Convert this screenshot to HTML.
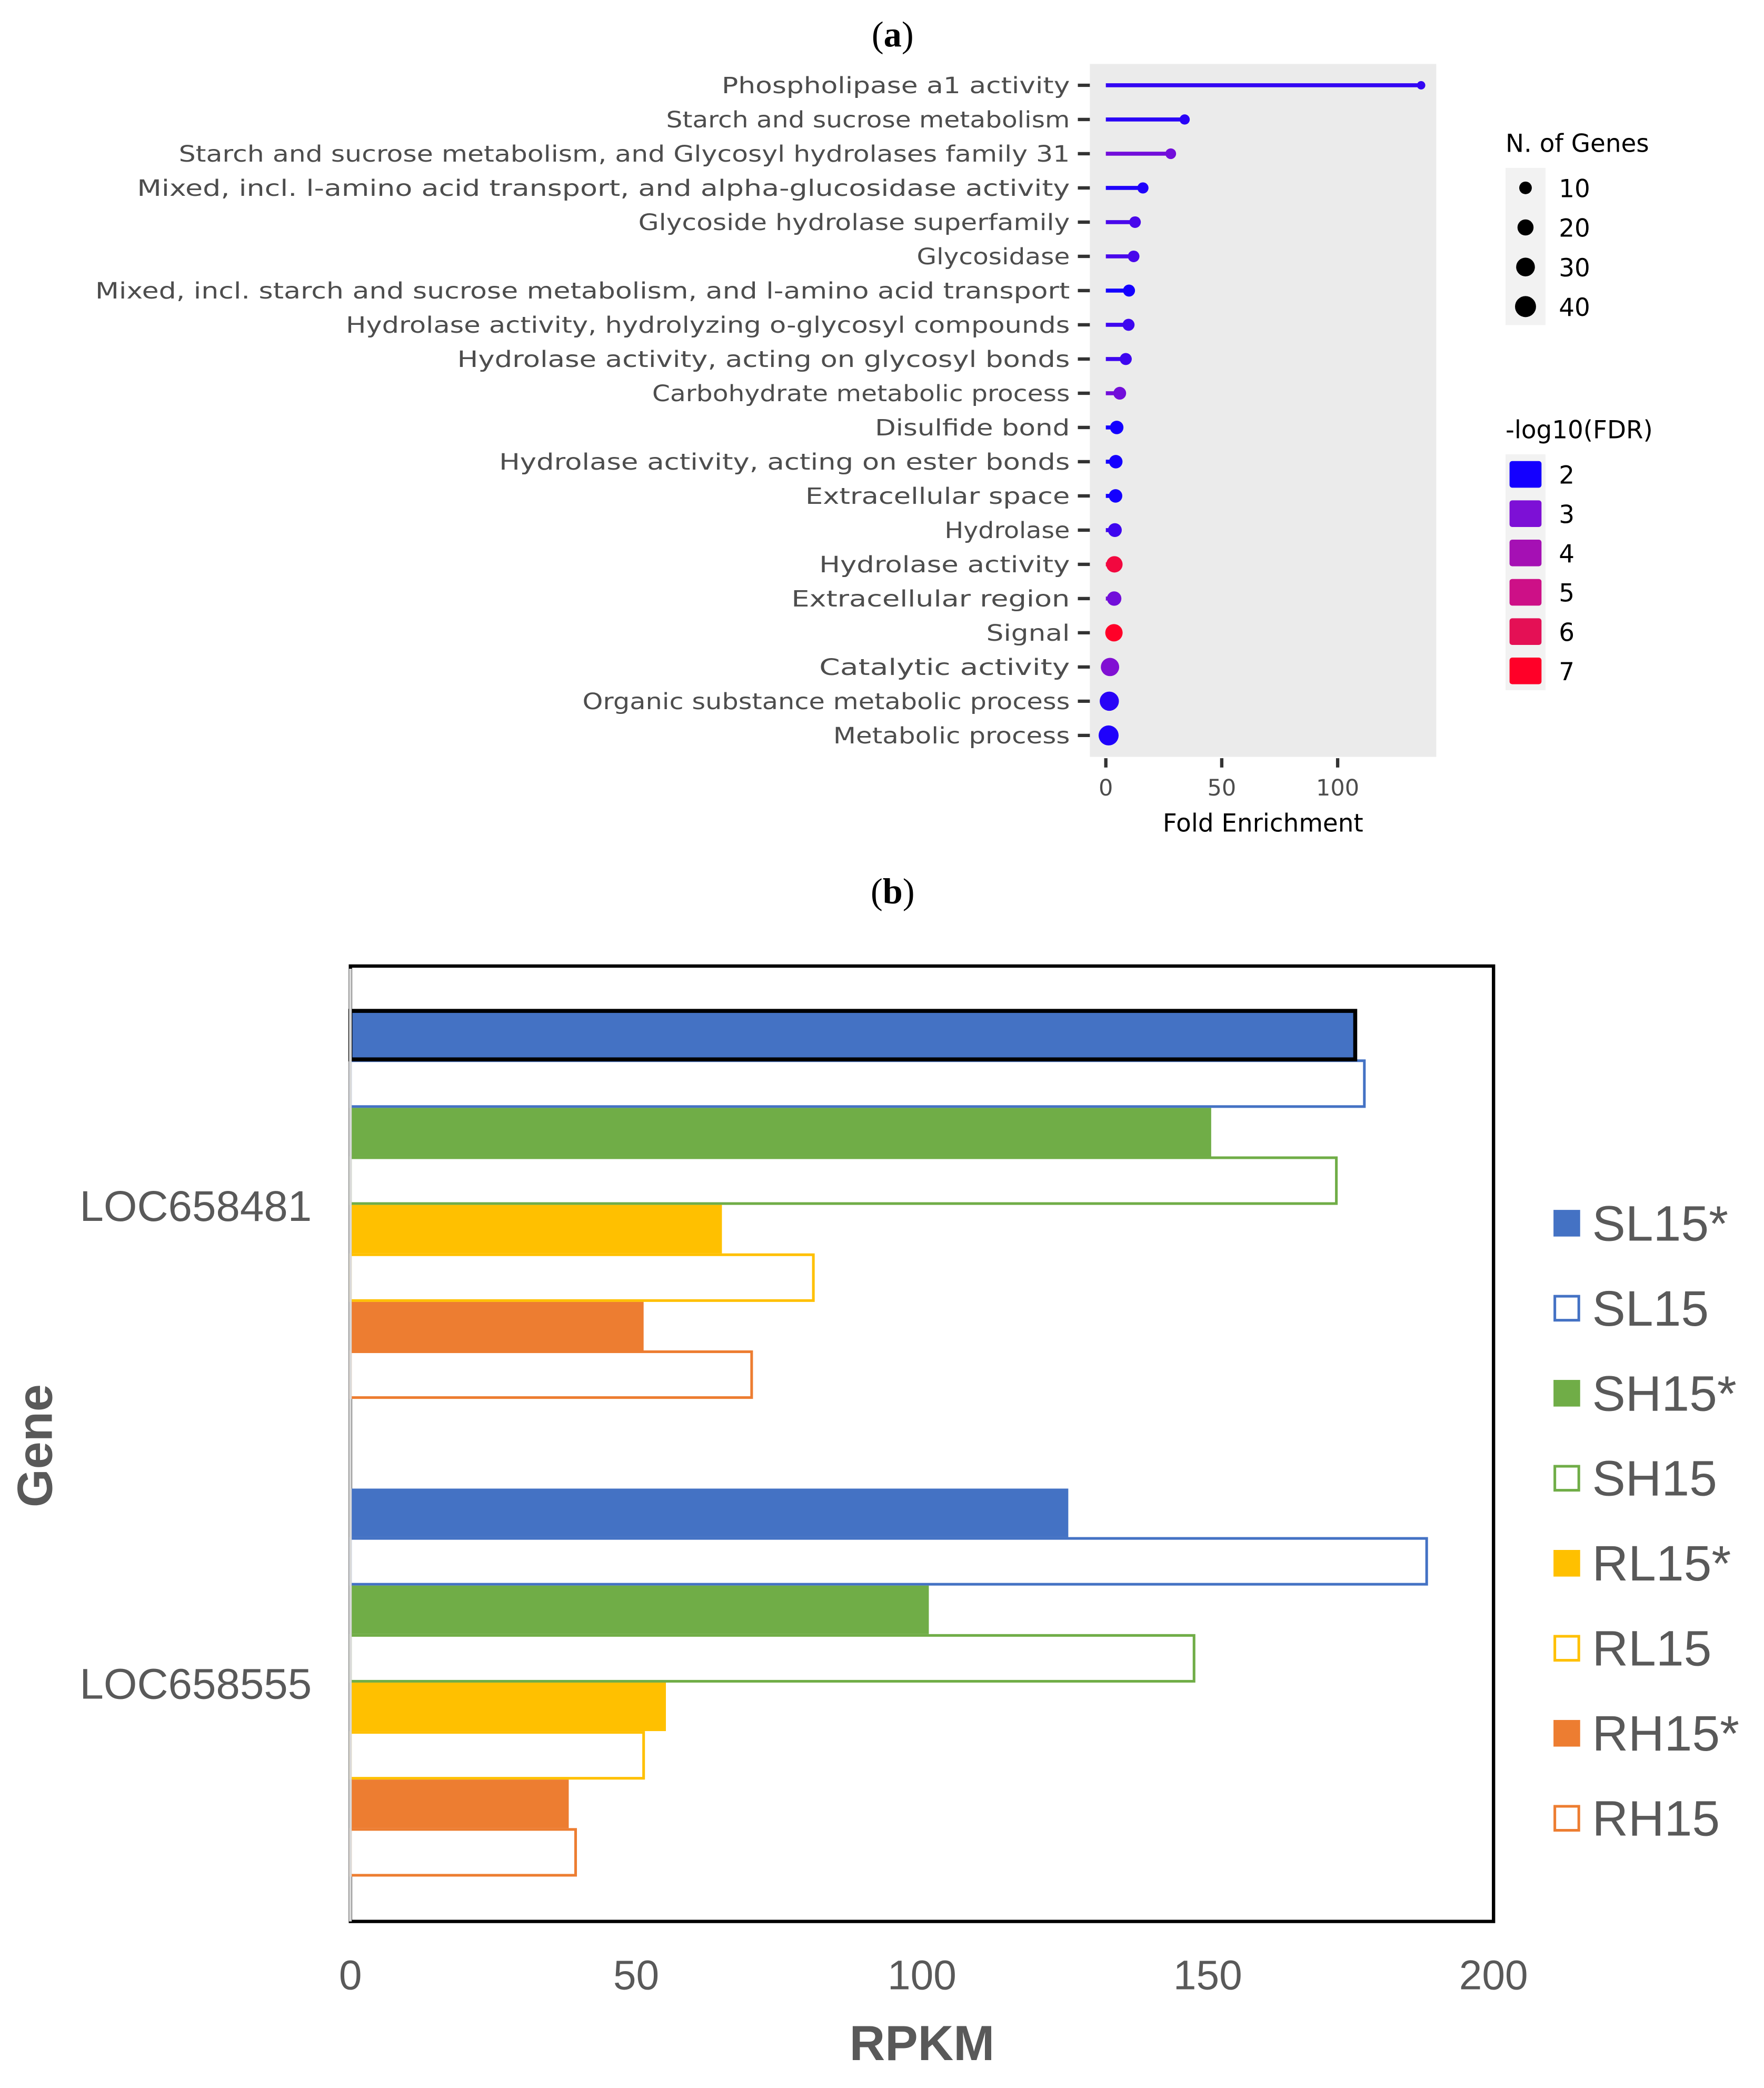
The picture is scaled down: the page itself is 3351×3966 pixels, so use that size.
<!DOCTYPE html>
<html><head><meta charset="utf-8"><style>
html,body{margin:0;padding:0;background:#fff;}
svg{display:block;}
</style></head><body>
<svg id="fig" width="3351" height="3966" viewBox="0 0 1324 1567" preserveAspectRatio="none" xmlns="http://www.w3.org/2000/svg">
<text x="670" y="35" text-anchor="middle" font-family="Liberation Serif, serif" font-size="27">(<tspan font-weight="bold">a</tspan>)</text>
<text x="670" y="678" text-anchor="middle" font-family="Liberation Serif, serif" font-size="27">(<tspan font-weight="bold">b</tspan>)</text>
<g id="topChart"></g>
<g id="botChart"></g>
</svg>
<script>
// ---- Chart (a) data ----
const terms = ["Phospholipase a1 activity","Starch and sucrose metabolism","Starch and sucrose metabolism, and Glycosyl hydrolases family 31","Mixed, incl. l-amino acid transport, and alpha-glucosidase activity","Glycoside hydrolase superfamily","Glycosidase","Mixed, incl. starch and sucrose metabolism, and l-amino acid transport","Hydrolase activity, hydrolyzing o-glycosyl compounds","Hydrolase activity, acting on glycosyl bonds","Carbohydrate metabolic process","Disulfide bond","Hydrolase activity, acting on ester bonds","Extracellular space","Hydrolase","Hydrolase activity","Extracellular region","Signal","Catalytic activity","Organic substance metabolic process","Metabolic process"];
const foldEnrichment = [136, 34, 28, 16, 12.6, 12, 10, 9.8, 8.6, 6, 4.7, 4.3, 4.2, 3.9, 3.7, 3.6, 3.5, 1.8, 1.5, 1.2];
const nGenes = [3, 6, 7, 8, 9, 9, 10, 10, 10, 12, 14, 14, 14, 15, 24, 17, 28, 32, 36, 40];
const fdrLog = [2.3, 2.2, 2.9, 2.1, 2.5, 2.5, 2.0, 2.4, 2.4, 2.9, 2.0, 2.0, 2.0, 2.4, 6.5, 2.9, 7.0, 3.1, 2.2, 2.1];
const xTicksA = [0, 50, 100];
const sizeLegend = [10, 20, 30, 40];
const colorLegend = [2, 3, 4, 5, 6, 7];

// ---- Chart (b) data ----
const genes = ["LOC658481", "LOC658555"];
const seriesNames = ["SL15*","SL15","SH15*","SH15","RL15*","RL15","RH15*","RH15"];
const seriesColors = ["#4472c4","#4472c4","#70ad47","#70ad47","#ffc000","#ffc000","#ed7d31","#ed7d31"];
const seriesFilled = [true,false,true,false,true,false,true,false];
const gene1Values = [175.8, 177.4, 150.6, 172.5, 65, 81, 51.3, 70.2];
const gene2Values = [125.6, 188.3, 101.2, 147.6, 55.2, 51.3, 38.2, 39.4];
const xTicksB = [0, 50, 100, 150, 200];

const NS = "http://www.w3.org/2000/svg";
function mk(parent, tag, attrs, text){
  const e = document.createElementNS(NS, tag);
  for (const k in attrs) e.setAttribute(k, attrs[k]);
  if (text !== undefined) e.textContent = text;
  parent.appendChild(e);
  return e;
}
const palette = [[20,0,255],[125,16,214],[165,16,180],[205,16,135],[228,16,85],[255,0,40]];
function fdrColor(v){
  const t = Math.max(0, Math.min(5, v-2));
  const i = Math.min(4, Math.floor(t)), f = t - i;
  const a = palette[i], b = palette[i+1];
  return `rgb(${Math.round(a[0]+(b[0]-a[0])*f)},${Math.round(a[1]+(b[1]-a[1])*f)},${Math.round(a[2]+(b[2]-a[2])*f)})`;
}
function radius(n){ return 1.5 + 0.95*Math.sqrt(n); }

// ---- Draw chart (a) ----
const A = document.getElementById('topChart');
const pL=818, pR=1078, pT=48, pB=568;
const xA = v => 830 + v*1.74;
const rowY = i => 64 + i*25.68;
let bg = mk(A,'rect',{x:pL,y:pT,width:pR-pL,height:pB-pT,fill:'#ebebeb'});


terms.forEach((t,i)=>{
  const y = rowY(i);
  const lab = mk(A,'text',{x:803,y:y+6,'text-anchor':'end','font-family':'DejaVu Sans, sans-serif','font-size':'17',fill:'#4d4d4d',textLength:(t.length*10.45).toFixed(1),lengthAdjust:'spacingAndGlyphs'},t);
  
  
  const tk = mk(A,'line',{x1:809,x2:818,y1:y,y2:y,stroke:'#333',"stroke-width":2.5});
  
  
  const c = fdrColor(fdrLog[i]);
  const ln = mk(A,'line',{x1:xA(0),x2:xA(foldEnrichment[i]),y1:y,y2:y,stroke:c,'stroke-width':3});
  
  
  const dt = mk(A,'circle',{cx:xA(foldEnrichment[i]),cy:y,r:radius(nGenes[i]),fill:c});
  
  
});
xTicksA.forEach(v=>{
  const tk = mk(A,'line',{x1:xA(v),x2:xA(v),y1:569,y2:576,stroke:'#333','stroke-width':2.5});
  
  
  const tl = mk(A,'text',{x:xA(v),y:597,'text-anchor':'middle','font-family':'DejaVu Sans, sans-serif','font-size':'17',fill:'#4d4d4d'},String(v));
  
  
});
let xt = mk(A,'text',{x:948,y:624,'text-anchor':'middle','font-family':'DejaVu Sans, sans-serif','font-size':'18.5',fill:'#000'},'Fold Enrichment');


let st = mk(A,'text',{x:1130,y:114,'font-family':'DejaVu Sans, sans-serif','font-size':'18.5',fill:'#000'},'N. of Genes');


mk(A,'rect',{x:1130,y:126,width:30,height:118,fill:'#f2f2f2'});
sizeLegend.forEach((n,i)=>{
  const y = 141 + i*29.7;
  const c = mk(A,'circle',{cx:1145,cy:y,r:radius(n)*1.05,fill:'#000'});
  
  
  const t = mk(A,'text',{x:1170,y:y+7,'font-family':'DejaVu Sans, sans-serif','font-size':'18.5',fill:'#000'},String(n));
  
  
});
let ct = mk(A,'text',{x:1130,y:329,'font-family':'DejaVu Sans, sans-serif','font-size':'18.5',fill:'#000'},'-log10(FDR)');


mk(A,'rect',{x:1130,y:341,width:30,height:177,fill:'#f2f2f2'});
colorLegend.forEach((v,i)=>{
  const y = 356 + i*29.5;
  const r = mk(A,'rect',{x:1133,y:y-10,width:24,height:20,rx:2,fill:fdrColor(v)});
  
  
  const t = mk(A,'text',{x:1170,y:y+7,'font-family':'DejaVu Sans, sans-serif','font-size':'18.5',fill:'#000'},String(v));
  
  
});

// ---- Draw chart (b) ----
const B = document.getElementById('botChart');
const bL=263, bR=1121, bT=725, bB=1442;
const xB = v => bL + v*(bR-bL)/200;
const band = (bB-bT)/genes.length;
const barH = 36.4;
const frame = mk(B,'rect',{x:bL,y:bT,width:bR-bL,height:bB-bT,fill:'#fff',stroke:'#000','stroke-width':2.5});


const allVals = [gene1Values, gene2Values];
genes.forEach((g,gi)=>{
  const center = bT + band*(gi+0.5);
  const top = center - barH*seriesNames.length/2;
  allVals[gi].forEach((v,si)=>{
    const y = top + si*barH;
    const filled = seriesFilled[si];
    const attrs = filled ? {x:bL,y:y,width:xB(v)-bL,height:barH,fill:seriesColors[si]}
                         : {x:bL,y:y+1,width:xB(v)-bL,height:barH-2,fill:'#fff',stroke:seriesColors[si],'stroke-width':2};
    const r = mk(B,'rect',attrs);
    
    
  });
  const gl = mk(B,'text',{x:234,y:center+12,'text-anchor':'end','font-family':'Liberation Sans, sans-serif','font-size':'32.3',fill:'#595959'},g);
  
  
});
{
  const y = bT + band*0.5 - barH*4;
  const h = mk(B,'rect',{x:bL,y:y,width:xB(gene1Values[0])-bL,height:barH,fill:'none',stroke:'#000','stroke-width':3});
  
  
}
const ax = mk(B,'line',{x1:bL,x2:bL,y1:bT+2,y2:bB,stroke:'#d9d9d9','stroke-width':2});


xTicksB.forEach(v=>{
  const t = mk(B,'text',{x:xB(v),y:1493,'text-anchor':'middle','font-family':'Liberation Sans, sans-serif','font-size':'31',fill:'#595959'},String(v));
  
  
});
let rx = mk(B,'text',{x:692,y:1546,'text-anchor':'middle','font-family':'Liberation Sans, sans-serif','font-size':'37','font-weight':'bold',fill:'#595959'},'RPKM');


let gy = mk(B,'text',{x:0,y:0,'text-anchor':'middle','font-family':'Liberation Sans, sans-serif','font-size':'37','font-weight':'bold',fill:'#595959',transform:'translate(39,1085) rotate(-90)'},'Gene');


seriesNames.forEach((n,i)=>{
  const y = 918 + i*63.8;
  const attrs = seriesFilled[i] ? {x:1166,y:y-10,width:20,height:20,fill:seriesColors[i]}
                                : {x:1167,y:y-9,width:18,height:18,fill:'#fff',stroke:seriesColors[i],'stroke-width':2};
  const k = mk(B,'rect',attrs);
  
  
  const t = mk(B,'text',{x:1195,y:y+13,'font-family':'Liberation Sans, sans-serif','font-size':'37.5',fill:'#595959'},n);
  
  
});
</script>
</body></html>
